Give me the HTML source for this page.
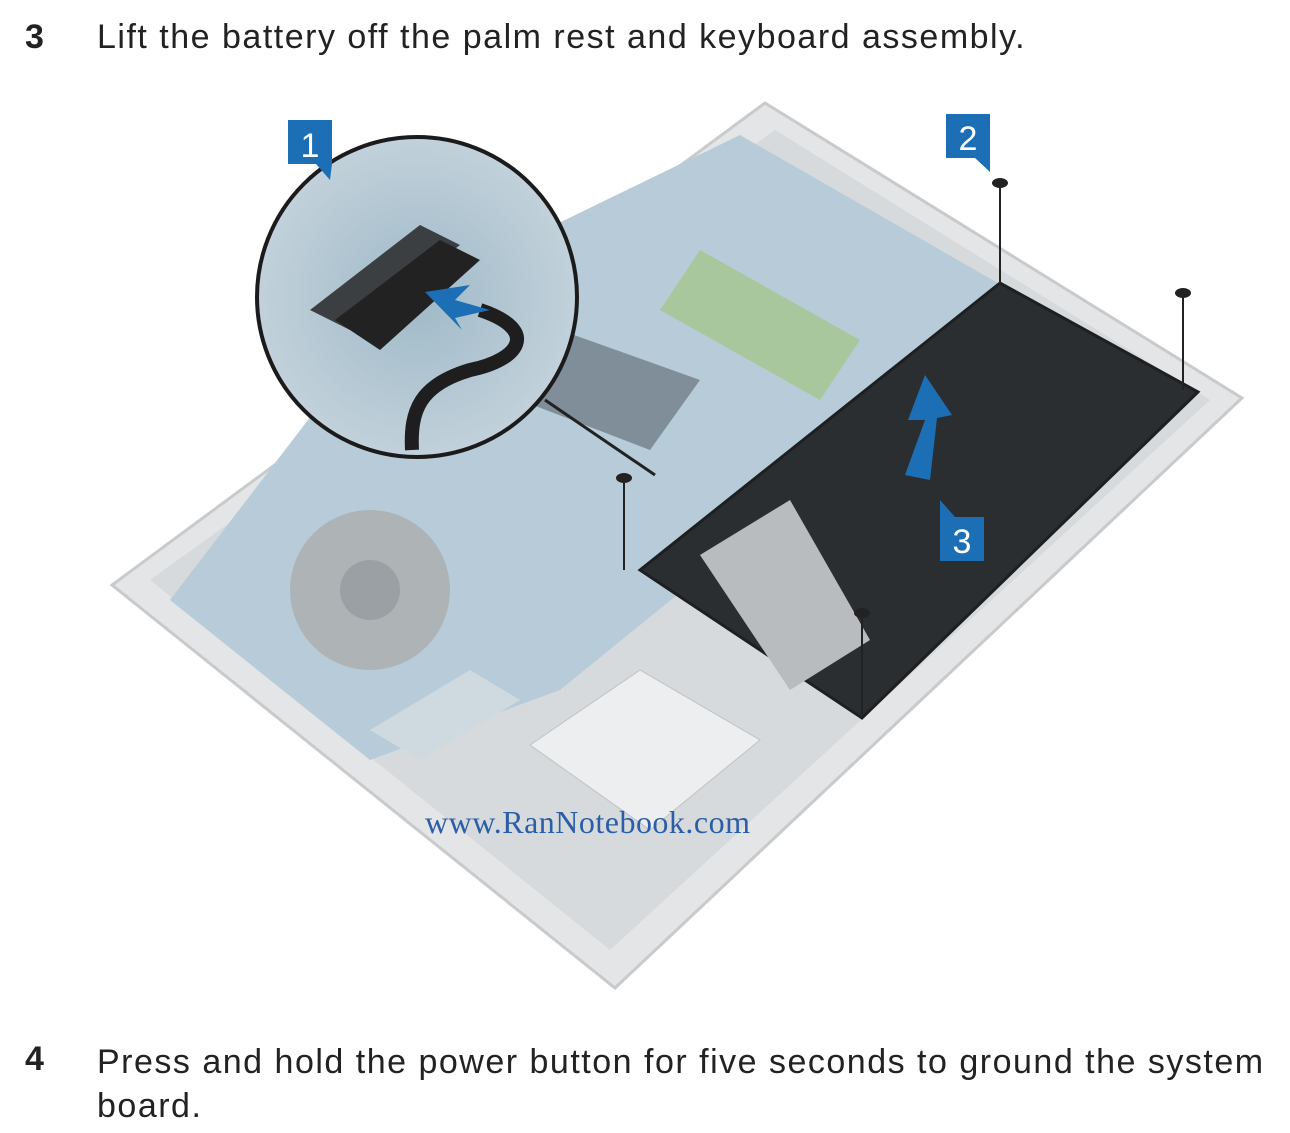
<!DOCTYPE html>
<html><head><meta charset="utf-8"><style>
html,body{margin:0;padding:0;background:#fff;width:1290px;height:1133px;overflow:hidden;font-family:"Liberation Sans",sans-serif;}
.t{position:absolute;font-size:34px;color:#222;letter-spacing:1.5px;}
.n{position:absolute;font-size:34px;font-weight:bold;color:#222;}
</style></head><body>
<div class="n" style="left:25px;top:18px">3</div>
<div class="t" style="left:97px;top:18px">Lift the battery off the palm rest and keyboard assembly.</div>
<svg width="1290" height="1133" style="position:absolute;left:0;top:0">
<defs>
<radialGradient id="cg" cx="0.5" cy="0.5" r="0.6"><stop offset="0" stop-color="#9fb9c8"/><stop offset="1" stop-color="#c9d6de"/></radialGradient>
</defs>
<polygon points="765,103 1242,398 615,988 112,585" fill="#e3e5e6" stroke="#c8cacc" stroke-width="3"/>
<polygon points="775,130 1210,400 610,950 150,580" fill="#d6dadc"/>
<polygon points="740,135 1010,290 720,560 560,690 370,760 170,600 400,300" fill="#b7ccd8"/>
<polygon points="700,250 860,340 820,400 660,310" fill="#a9c79c"/>
<polygon points="560,330 700,380 650,450 520,400" fill="#7f8e98"/>
<circle cx="370" cy="590" r="80" fill="#aeb3b6"/>
<circle cx="370" cy="590" r="30" fill="#9aa0a4"/>
<polygon points="530,745 640,670 760,740 650,830" fill="#eceeef" stroke="#bfc3c5"/>
<polygon points="370,730 470,670 520,700 420,760" fill="#cfd9e0"/>
<polygon points="640,570 1000,283 1198,392 862,718" fill="#2b2e31" stroke="#1d1f21" stroke-width="3"/>
<polygon points="700,555 790,500 870,640 790,690" fill="#b8bcbf"/>
<line x1="1000" y1="185" x2="1000" y2="285" stroke="#222" stroke-width="2"/>
<line x1="1183" y1="295" x2="1183" y2="390" stroke="#222" stroke-width="2"/>
<line x1="624" y1="480" x2="624" y2="570" stroke="#222" stroke-width="2"/>
<line x1="862" y1="615" x2="862" y2="715" stroke="#222" stroke-width="2"/>
<ellipse cx="1000" cy="183" rx="8" ry="5" fill="#222"/>
<ellipse cx="1183" cy="293" rx="8" ry="5" fill="#222"/>
<ellipse cx="624" cy="478" rx="8" ry="5" fill="#222"/>
<ellipse cx="862" cy="613" rx="8" ry="5" fill="#222"/>
<polygon points="905,475 925,420 908,420 925,375 952,415 937,418 930,480" fill="#1d6fb5"/>
<line x1="545" y1="400" x2="655" y2="475" stroke="#222" stroke-width="3"/>
<circle cx="417" cy="297" r="160" fill="url(#cg)" stroke="#1b1b1b" stroke-width="4"/>
<polygon points="310,310 420,225 460,245 350,330" fill="#3b3f42"/>
<polygon points="335,320 440,240 480,260 380,350" fill="#222"/>
<path d="M480,310 C540,330 520,360 470,370 C420,385 410,410 412,450" stroke="#1e1e1e" stroke-width="14" fill="none"/>
<polygon points="425,292 470,285 455,300 490,310 455,318 462,330" fill="#1d6fb5"/>
<rect x="288" y="120" width="44" height="44" fill="#1d6fb5"/><polygon points="316,164 332,164 330,180" fill="#1d6fb5"/>
<text x="310" y="157" font-size="34" fill="#fff" text-anchor="middle" font-family="Liberation Sans">1</text>
<rect x="946" y="114" width="44" height="44" fill="#1d6fb5"/><polygon points="975,158 990,158 990,172" fill="#1d6fb5"/>
<text x="968" y="150" font-size="34" fill="#fff" text-anchor="middle" font-family="Liberation Sans">2</text>
<rect x="940" y="517" width="44" height="44" fill="#1d6fb5"/><polygon points="940,517 955,517 940,500" fill="#1d6fb5"/>
<text x="962" y="553" font-size="34" fill="#fff" text-anchor="middle" font-family="Liberation Sans">3</text>
<text x="425" y="833" font-size="32" fill="#2a5ea8" font-family="Liberation Serif" textLength="325">www.RanNotebook.com</text>
</svg>
<div class="n" style="left:25px;top:1040px">4</div>
<div class="t" style="left:97px;top:1040px;width:1185px;line-height:44px">Press and hold the power button for five seconds to ground the system board.</div>
</body></html>
